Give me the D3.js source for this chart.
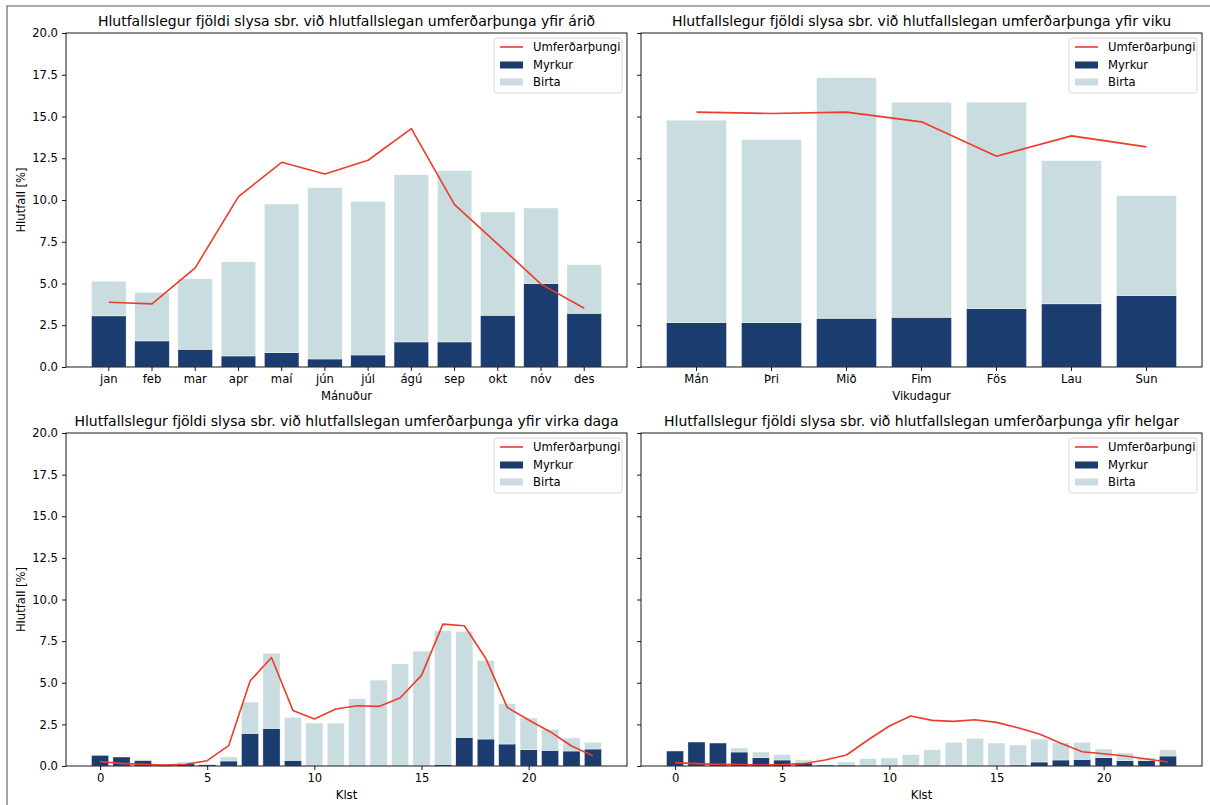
<!DOCTYPE html>
<html><head><meta charset="utf-8">
<script src="https://cdn.jsdelivr.net/npm/d3@7"></script>
<style>
body{margin:0;background:#fff}
svg{display:block}
text{font-family:"DejaVu Sans",sans-serif;fill:#000}
</style>
</head><body>
<svg id="c" width="1210" height="805"></svg>
<script>
// ---------- data ----------
const months = ["jan","feb","mar","apr","maí","jún","júl","ágú","sep","okt","nóv","des"];
const monthMyrkur  = [3.06,1.56,1.06,0.66,0.86,0.48,0.72,1.50,1.50,3.10,5.00,3.22];
const monthBirta   = [2.08,2.90,4.22,5.64,8.90,10.26,9.20,10.02,10.26,6.18,4.52,2.90];
const monthTraffic = [3.88,3.78,5.94,10.20,12.26,11.56,12.38,14.28,9.72,7.36,4.96,3.52];

const days = ["Mán","Þri","Mið","Fim","Fös","Lau","Sun"];
const dayMyrkur  = [2.66,2.66,2.92,2.98,3.50,3.78,4.28];
const dayBirta   = [12.12,10.96,14.40,12.88,12.36,8.58,5.98];
const dayTraffic = [15.26,15.18,15.26,14.68,12.62,13.84,13.18];

const hours = d3.range(24);
const hourTicks = [0,5,10,15,20];
const weekdayMyrkur  = [0.64,0.54,0.34,0.04,0.14,0.08,0.30,1.96,2.26,0.34,0,0,0,0,0,0,0.10,1.72,1.62,1.32,0.98,0.94,0.90,1.02];
const weekdayBirta   = [0,0,0.04,0.02,0.10,0.04,0.24,1.88,4.52,2.58,2.58,2.58,4.04,5.16,6.14,6.90,8.02,6.36,4.72,2.42,1.90,1.26,0.78,0.40];
const weekdayTraffic = [0.26,0.16,0.10,0.06,0.10,0.32,1.22,5.10,6.52,3.34,2.82,3.42,3.62,3.58,4.08,5.44,8.52,8.42,6.46,3.52,2.76,2.06,1.20,0.62];

const weekendMyrkur  = [0.90,1.44,1.38,0.84,0.50,0.36,0.18,0.06,0.06,0,0,0,0,0,0,0,0.06,0.24,0.36,0.40,0.50,0.32,0.32,0.60];
const weekendBirta   = [0,0,0,0.24,0.34,0.32,0.18,0.04,0.18,0.44,0.48,0.68,0.98,1.42,1.66,1.38,1.20,1.38,1.04,1.02,0.52,0.46,0.20,0.38];
const weekendTraffic = [0.20,0.14,0.10,0.08,0.06,0.08,0.14,0.36,0.66,1.56,2.40,3.00,2.74,2.68,2.78,2.62,2.30,1.92,1.36,0.86,0.74,0.60,0.42,0.24];

const yTicks = [0,2.5,5,7.5,10,12.5,15,17.5,20];
const legendLabels = ["Umferðarþungi","Myrkur","Birta"];

// ---------- style ----------
const C_DARK = "#1b3c6e", C_LIGHT = "#c9dde0", C_RED = "#ee3b2c";
const FS = 11.6, TFS = 14;

const svg = d3.select("#c");
// outer frame (left & top)
svg.append("line").attr("x1",7).attr("x2",7).attr("y1",6).attr("y2",805).attr("stroke","#8f8f8f").attr("stroke-width",1.6);
svg.append("line").attr("x1",6).attr("x2",1210).attr("y1",6).attr("y2",6).attr("stroke","#8f8f8f").attr("stroke-width",1.6);

function panel(o){
  const {x0,x1,y0,y1} = o;
  const g = svg.append("g");
  const y = d3.scaleLinear().domain([0,20]).range([y1,y0]);
  let pos, bw, xAxis;
  if (o.cats){
    const n = o.cats.length;
    const xb = d3.scaleBand().domain(o.cats).range([x0,x1]).paddingInner(0.2).paddingOuter(0.05*(n-0.2)+0.1);
    // matplotlib: band outer padding relative to step
    const xb2 = d3.scaleBand().domain(o.cats).range([x0,x1]).paddingInner(0.2).paddingOuter(0.05*(n-0.2));
    pos = i => xb2(o.cats[i]) + xb2.bandwidth()/2;
    bw = xb2.bandwidth();
    xAxis = d3.axisBottom(xb2).tickSizeOuter(0);
  } else {
    const n = o.n;
    const lo = -0.4 - 0.05*(n-0.2), hi = n-1+0.4 + 0.05*(n-0.2);
    const xl = d3.scaleLinear().domain([lo,hi]).range([x0,x1]);
    pos = i => xl(i);
    bw = xl(0.8)-xl(0);
    xAxis = d3.axisBottom(xl).tickValues(o.ticks).tickFormat(d3.format("d")).tickSizeOuter(0);
  }
  const idx = d3.range(o.dark.length);
  // Myrkur bars
  g.append("g").selectAll("rect").data(idx).join("rect")
    .attr("x", i => pos(i)-bw/2).attr("width", bw)
    .attr("y", i => y(o.dark[i])).attr("height", i => y(0)-y(o.dark[i]))
    .attr("fill", C_DARK).attr("stroke","#fff").attr("stroke-width",0.4);
  // Birta bars stacked
  g.append("g").selectAll("rect").data(idx.filter(i=>o.light[i]>0)).join("rect")
    .attr("x", i => pos(i)-bw/2).attr("width", bw)
    .attr("y", i => y(o.dark[i]+o.light[i])).attr("height", i => y(o.dark[i])-y(o.dark[i]+o.light[i]))
    .attr("fill", C_LIGHT).attr("stroke","#fff").attr("stroke-width",0.4);
  // traffic line
  g.append("path").datum(idx)
    .attr("d", d3.line().x(i=>pos(i)).y(i=>y(o.line[i])))
    .attr("fill","none").attr("stroke",C_RED).attr("stroke-width",1.6).attr("stroke-linejoin","round");

  // axes
  const ax = g.append("g").attr("transform",`translate(0,${y1})`).call(xAxis.tickSize(4).tickPadding(4));
  ax.select(".domain").remove();
  ax.selectAll("text").attr("font-size",FS).attr("font-family","DejaVu Sans").attr("fill","#000");
  ax.selectAll("line").attr("stroke","#000").attr("stroke-width",0.9);
  const yAxis = d3.axisLeft(y).tickValues(yTicks).tickSize(4).tickPadding(4)
    .tickFormat(o.yLabels ? d3.format(".1f") : () => "");
  const ay = g.append("g").attr("transform",`translate(${x0},0)`).call(yAxis);
  ay.select(".domain").remove();
  ay.selectAll("text").attr("font-size",FS).attr("font-family","DejaVu Sans").attr("fill","#000");
  ay.selectAll("line").attr("stroke","#000").attr("stroke-width",0.9);

  // spines
  g.append("rect").attr("x",x0).attr("y",y0).attr("width",x1-x0).attr("height",y1-y0)
    .attr("fill","none").attr("stroke","#000").attr("stroke-width",0.9);

  // title
  g.append("text").attr("x",(x0+x1)/2).attr("y",y0-7).attr("text-anchor","middle")
    .attr("font-size",TFS).text(o.title);
  // xlabel
  g.append("text").attr("x",(x0+x1)/2).attr("y",y1+33).attr("text-anchor","middle")
    .attr("font-size",FS).text(o.xlabel);
  if (o.ylabel){
    g.append("text").attr("transform",`translate(25,${(y0+y1)/2}) rotate(-90)`)
      .attr("text-anchor","middle").attr("font-size",FS).text(o.ylabel);
  }
  // legend
  const lx = x1-133, ly = y0+5;
  const lg = g.append("g");
  lg.append("rect").attr("x",lx).attr("y",ly).attr("width",128).attr("height",55).attr("rx",3)
    .attr("fill","#fff").attr("fill-opacity",0.8).attr("stroke","#d4d4d4").attr("stroke-width",0.9);
  const rows = [ly+9, ly+27, ly+44];
  lg.append("line").attr("x1",lx+6).attr("x2",lx+29).attr("y1",rows[0]).attr("y2",rows[0])
    .attr("stroke",C_RED).attr("stroke-width",1.6);
  lg.append("rect").attr("x",lx+6).attr("y",rows[1]-3.5).attr("width",23).attr("height",7).attr("fill",C_DARK);
  lg.append("rect").attr("x",lx+6).attr("y",rows[2]-3.5).attr("width",23).attr("height",7).attr("fill",C_LIGHT);
  legendLabels.forEach((t,k)=>{
    lg.append("text").attr("x",lx+39).attr("y",rows[k]+4.2).attr("font-size",FS).text(t);
  });
}

panel({x0:66,x1:627,y0:33,y1:367,cats:months,dark:monthMyrkur,light:monthBirta,line:monthTraffic,
  title:"Hlutfallslegur fjöldi slysa sbr. við hlutfallslegan umferðarþunga yfir árið",xlabel:"Mánuður",ylabel:"Hlutfall [%]",yLabels:true});
panel({x0:641,x1:1202,y0:33,y1:367,cats:days,dark:dayMyrkur,light:dayBirta,line:dayTraffic,
  title:"Hlutfallslegur fjöldi slysa sbr. við hlutfallslegan umferðarþunga yfir viku",xlabel:"Vikudagur",yLabels:false});
panel({x0:66,x1:627,y0:433,y1:766,n:hours.length,ticks:hourTicks,dark:weekdayMyrkur,light:weekdayBirta,line:weekdayTraffic,
  title:"Hlutfallslegur fjöldi slysa sbr. við hlutfallslegan umferðarþunga yfir virka daga",xlabel:"Klst",ylabel:"Hlutfall [%]",yLabels:true});
panel({x0:641,x1:1202,y0:433,y1:766,n:hours.length,ticks:hourTicks,dark:weekendMyrkur,light:weekendBirta,line:weekendTraffic,
  title:"Hlutfallslegur fjöldi slysa sbr. við hlutfallslegan umferðarþunga yfir helgar",xlabel:"Klst",yLabels:false});
</script>
</body></html>
